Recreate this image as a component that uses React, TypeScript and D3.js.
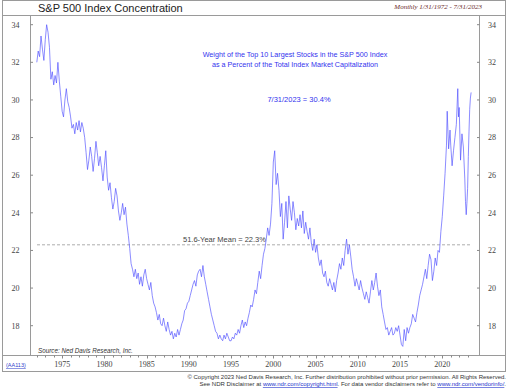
import React from "react";
import * as d3 from "d3";

const months: string[] = [
"1972-01","1972-03","1972-05","1972-07","1972-09","1972-11",
"1973-01","1973-03","1973-05","1973-07","1973-09","1973-11",
"1974-01","1974-03","1974-05","1974-07","1974-09","1974-11",
"1975-01","1975-03","1975-05","1975-07","1975-09","1975-11",
"1976-01","1976-03","1976-05","1976-07","1976-09","1976-11",
"1977-01","1977-03","1977-05","1977-07","1977-09","1977-11",
"1978-01","1978-03","1978-05","1978-07","1978-09","1978-11",
"1979-01","1979-03","1979-05","1979-07","1979-09","1979-11",
"1980-01","1980-03","1980-05","1980-07","1980-09","1980-11",
"1981-01","1981-03","1981-05","1981-07","1981-09","1981-11",
"1982-01","1982-03","1982-05","1982-07","1982-09","1982-11",
"1983-01","1983-03","1983-05","1983-07","1983-09","1983-11",
"1984-01","1984-03","1984-05","1984-07","1984-09","1984-11",
"1985-01","1985-03","1985-05","1985-07","1985-09","1985-11",
"1986-01","1986-03","1986-05","1986-07","1986-09","1986-11",
"1987-01","1987-03","1987-05","1987-07","1987-09","1987-11",
"1988-01","1988-03","1988-05","1988-07","1988-09","1988-11",
"1989-01","1989-03","1989-05","1989-07","1989-09","1989-11",
"1990-01","1990-03","1990-05","1990-07","1990-09","1990-11",
"1991-01","1991-03","1991-05","1991-07","1991-09","1991-11",
"1992-01","1992-03","1992-05","1992-07","1992-09","1992-11",
"1993-01","1993-03","1993-05","1993-07","1993-09","1993-11",
"1994-01","1994-03","1994-05","1994-07","1994-09","1994-11",
"1995-01","1995-03","1995-05","1995-07","1995-09","1995-11",
"1996-01","1996-03","1996-05","1996-07","1996-09","1996-11",
"1997-01","1997-03","1997-05","1997-07","1997-09","1997-11",
"1998-01","1998-03","1998-05","1998-07","1998-09","1998-11",
"1999-01","1999-03","1999-05","1999-07","1999-09","1999-11",
"2000-01","2000-03","2000-05","2000-07","2000-09","2000-11",
"2001-01","2001-03","2001-05","2001-07","2001-09","2001-11",
"2002-01","2002-03","2002-05","2002-07","2002-09","2002-11",
"2003-01","2003-03","2003-05","2003-07","2003-09","2003-11",
"2004-01","2004-03","2004-05","2004-07","2004-09","2004-11",
"2005-01","2005-03","2005-05","2005-07","2005-09","2005-11",
"2006-01","2006-03","2006-05","2006-07","2006-09","2006-11",
"2007-01","2007-03","2007-05","2007-07","2007-09","2007-11",
"2008-01","2008-03","2008-05","2008-07","2008-09","2008-11",
"2009-01","2009-03","2009-05","2009-07","2009-09","2009-11",
"2010-01","2010-03","2010-05","2010-07","2010-09","2010-11",
"2011-01","2011-03","2011-05","2011-07","2011-09","2011-11",
"2012-01","2012-03","2012-05","2012-07","2012-09","2012-11",
"2013-01","2013-03","2013-05","2013-07","2013-09","2013-11",
"2014-01","2014-03","2014-05","2014-07","2014-09","2014-11",
"2015-01","2015-03","2015-05","2015-07","2015-09","2015-11",
"2016-01","2016-03","2016-05","2016-07","2016-09","2016-11",
"2017-01","2017-03","2017-05","2017-07","2017-09","2017-11",
"2018-01","2018-03","2018-05","2018-07","2018-09","2018-11",
"2019-01","2019-03","2019-05","2019-07","2019-09","2019-11",
"2020-01","2020-03","2020-05","2020-07","2020-08","2020-10","2020-12",
"2021-01","2021-03","2021-05","2021-07","2021-09","2021-11","2021-12",
"2022-01","2022-03","2022-05","2022-07","2022-09","2022-10","2022-11","2022-12",
"2023-01","2023-02","2023-03","2023-04","2023-05","2023-06","2023-07"
];

const weights: number[] = [
32.0,32.6,32.3,33.4,32.7,32.1,
33.2,34.0,33.6,32.8,31.1,31.5,
30.8,31.3,30.9,32.0,31.0,30.2,
29.4,29.1,30.0,30.6,29.9,29.6,
29.1,28.5,28.7,28.2,28.8,28.4,
28.9,28.3,28.8,28.5,28.0,27.2,
26.3,26.8,27.5,27.0,26.2,26.9,
27.8,27.2,26.5,27.0,26.4,25.7,
26.5,27.3,25.9,25.2,25.6,24.8,
24.2,24.6,25.3,24.9,24.1,23.6,
24.0,24.5,23.9,24.3,23.4,22.8,
22.1,21.3,21.0,20.6,21.0,20.5,
20.8,20.2,20.6,20.1,20.7,21.0,
20.5,20.2,19.9,20.3,19.6,19.2,
19.0,18.7,18.3,18.6,18.1,18.0,
18.4,18.0,17.7,18.2,17.8,17.5,
17.7,17.3,17.6,17.4,17.8,17.5,
17.8,18.1,18.3,18.8,18.9,19.2,
19.3,19.6,19.9,20.2,20.4,20.1,
20.7,20.9,21.0,20.6,21.2,20.6,
20.2,19.8,19.4,19.0,18.6,18.3,
18.0,17.7,17.6,17.3,17.5,17.3,
17.2,17.5,17.3,17.6,17.4,17.2,
17.2,17.4,17.3,17.6,17.5,17.8,
17.6,18.0,18.3,17.9,18.2,18.0,
18.4,18.7,19.1,19.0,19.4,19.9,
19.7,20.3,20.9,20.5,21.2,21.8,
22.1,22.6,23.2,22.8,23.4,24.5,
26.7,27.3,25.5,26.1,25.2,23.8,
24.5,22.6,23.5,24.6,23.2,24.9,
24.2,23.6,24.6,24.0,23.1,23.7,
23.3,23.9,23.2,24.1,22.9,23.5,
23.0,22.6,23.2,22.4,22.0,22.6,
21.9,22.3,21.6,21.2,21.5,20.8,
20.6,20.9,20.3,20.1,20.5,20.2,
19.9,20.3,19.8,20.4,20.8,21.3,
21.0,21.6,21.2,22.0,22.6,21.8,
22.3,21.7,21.0,20.6,20.1,20.5,
20.2,19.9,20.4,20.0,19.7,19.4,
19.8,19.5,19.2,19.8,20.4,19.9,
20.3,20.8,20.1,19.6,19.9,19.0,
18.6,18.2,17.8,17.9,17.5,17.7,
17.9,17.5,17.6,17.9,17.7,18.0,
17.5,17.0,16.9,17.8,17.2,17.9,
17.6,17.9,18.1,18.6,18.4,18.2,
18.7,19.1,19.6,19.9,20.2,20.6,
21.0,20.5,21.2,21.8,21.5,20.4,
20.9,21.6,21.2,22.0,21.9,23.0,
23.8,24.9,26.1,27.6,29.4,27.4,28.4,
27.6,26.5,27.3,28.0,28.7,30.6,
29.1,29.6,26.8,28.2,27.5,25.8,24.6,23.9,
24.5,25.3,27.0,28.3,29.5,30.1,30.4
];

const yTicks: number[] = [18, 20, 22, 24, 26, 28, 30, 32, 34];
const yearLabels: number[] = [1975, 1980, 1985, 1990, 1995, 2000, 2005, 2010, 2015, 2020];
const meanValue = 22.3;
const titleText = "S&P 500 Index Concentration";
const rangeText = "Monthly 1/31/1972 - 7/31/2023";
const noteLines: string[] = [
  "Weight of the Top 10 Largest Stocks in the S&P 500 Index",
  "as a Percent of the Total Index Market Capitalization",
];
const lastText = "7/31/2023 = 30.4%";
const meanText = "51.6-Year Mean = 22.3%";

const W = 512;
const H = 390;
const plotL = 30.5;
const plotR = 479.5;
const plotT = 15.5;
const plotB = 355.5;
const frameL = 2.5;
const frameR = 505.5;
const frameB = 371.5;

export default function App() {
  const parse = d3.timeParse("%Y-%m");
  const data = months.map((m, i) => ({ d: parse(m) as Date, v: weights[i] }));
  const x = d3
    .scaleTime()
    .domain([new Date(1972, 0, 31), new Date(2023, 6, 31)])
    .range([37.5, 472.5]);
  const y = d3.scaleLinear().domain([18, 34]).range([325.7, 24.7]);
  const line = d3
    .line<{ d: Date; v: number }>()
    .x((p) => x(p.d))
    .y((p) => y(p.v));
  const years = d3.range(1972, 2024);
  const sans = "'Liberation Sans', Arial, sans-serif";
  const serif = "'Liberation Serif', 'Times New Roman', serif";
  const frame = "#9a9a9a";
  return (
    <svg
      width={W}
      height={H}
      style={{ position: "absolute", left: 0, top: 0, background: "#fff" }}
    >
      <rect x={0} y={0} width={W} height={H} fill="#fff" />
      <rect x={frameL} y={0.5} width={frameR - frameL} height={frameB - 0.5} fill="none" stroke={frame} strokeWidth={1} />
      <line x1={frameL} x2={frameR} y1={plotT} y2={plotT} stroke={frame} />
      <line x1={frameL} x2={frameR} y1={plotB} y2={plotB} stroke={frame} />
      <line x1={plotL} x2={plotL} y1={plotT} y2={plotB} stroke={frame} />
      <line x1={plotR} x2={plotR} y1={plotT} y2={plotB} stroke={frame} />

      <text x={38} y={12} fontFamily={sans} fontSize={11} fill="#222">{titleText}</text>
      <text x={482} y={9} textAnchor="end" fontFamily={serif} fontStyle="italic" fontSize={7} fill="#6b2a2a">{rangeText}</text>

      {yTicks.map((t) => (
        <g key={t}>
          <line x1={plotL} x2={plotL + 2.5} y1={y(t)} y2={y(t)} stroke="#888" />
          <line x1={plotR - 2.5} x2={plotR} y1={y(t)} y2={y(t)} stroke="#888" />
          <text x={15.5} y={y(t) + 2.8} textAnchor="middle" fontFamily={serif} fontSize={8} fill="#444">{t}</text>
          <text x={492} y={y(t) + 2.8} textAnchor="middle" fontFamily={serif} fontSize={8} fill="#444">{t}</text>
        </g>
      ))}

      {years.map((yr) => {
        const xx = Math.round(x(new Date(yr, 0, 1))) + 0.5;
        const major = yr % 5 === 0;
        return <line key={yr} x1={xx} x2={xx} y1={plotB} y2={plotB + (major ? 3 : 2)} stroke="#888" />;
      })}
      {yearLabels.map((yr) => (
        <text key={yr} x={x(new Date(yr, 0, 1))} y={367} textAnchor="middle" fontFamily={serif} fontSize={8} fill="#444">{yr}</text>
      ))}

      <line x1={37} x2={472} y1={y(meanValue)} y2={y(meanValue)} stroke="#999" strokeWidth={0.8} strokeDasharray="3,2" />
      <text x={183} y={241.5} fontFamily={sans} fontSize={7.5} fill="#444">{meanText}</text>

      <path d={line(data) || ""} fill="none" stroke="#4a4aff" strokeOpacity={0.85} strokeWidth={0.75} strokeLinejoin="round" />

      {noteLines.map((s, i) => (
        <text key={i} x={295} y={57 + i * 10} textAnchor="middle" fontFamily={sans} fontSize={7.2} fill="#3333ee">{s}</text>
      ))}
      <text x={299} y={102} textAnchor="middle" fontFamily={sans} fontSize={7.5} fill="#3333ee">{lastText}</text>

      <text x={38} y={353} fontFamily={sans} fontStyle="italic" fontSize={6.3} fill="#333">Source: Ned Davis Research, Inc.</text>
      <text x={6} y={367} fontFamily={sans} fontSize={5.5} fill="#3344cc" textDecoration="underline">(AA113)</text>

      <text x={506} y={379} textAnchor="end" fontFamily={sans} fontSize={6} fill="#333">
        © Copyright 2023 Ned Davis Research, Inc.  Further distribution prohibited without prior permission.  All Rights Reserved.
      </text>
      <text x={506} y={386} textAnchor="end" fontFamily={sans} fontSize={6} fill="#333">
        See NDR Disclaimer at <tspan fill="#2233cc" textDecoration="underline">www.ndr.com/copyright.html</tspan>. For data vendor disclaimers refer to <tspan fill="#2233cc" textDecoration="underline">www.ndr.com/vendorinfo/</tspan>.
      </text>
    </svg>
  );
}
